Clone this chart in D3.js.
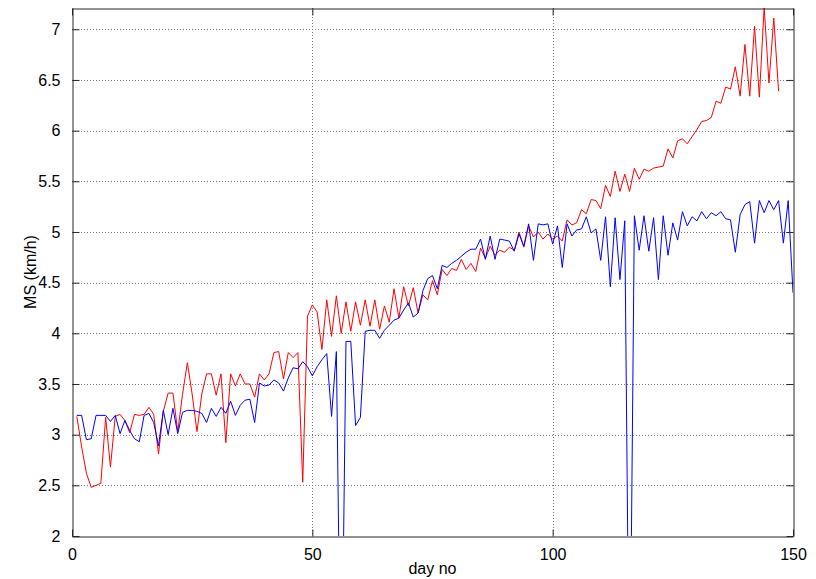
<!DOCTYPE html>
<html>
<head>
<meta charset="utf-8">
<script src="https://cdn.jsdelivr.net/npm/d3@7"></script>
<style>
  html, body { margin: 0; padding: 0; background: #fff; }
  svg { display: block; font-family: Arial, "Liberation Sans", Helvetica, sans-serif; }
</style>
</head>
<body>
<svg id="chart" width="816" height="579"></svg>
<script>
// Day numbers (x axis)
const daysRed = d3.range(1, 148);
const daysBlue = d3.range(1, 151);

// Mean speed per day, red series (days 1..147)
const redValues = [
  3.18, 2.88, 2.62, 2.48, 2.50, 2.52, 3.17, 2.68, 3.18, 3.20,
  3.14, 3.02, 3.20, 3.19, 3.20, 3.27, 3.20, 2.81, 3.23, 3.41,
  3.41, 3.03, 3.40, 3.71, 3.40, 3.03, 3.40, 3.60, 3.60, 3.39,
  3.60, 2.92, 3.60, 3.48, 3.60, 3.50, 3.50, 3.37, 3.60, 3.54,
  3.60, 3.81, 3.82, 3.55, 3.81, 3.76, 3.81, 2.53, 4.17, 4.28,
  4.21, 3.84, 4.33, 3.97, 4.37, 4.00, 4.31, 4.02, 4.31, 4.08,
  4.33, 4.07, 4.33, 4.04, 4.27, 4.11, 4.44, 4.15, 4.46, 4.27,
  4.45, 4.20, 4.38, 4.33, 4.52, 4.38, 4.63, 4.57, 4.64, 4.62,
  4.73, 4.63, 4.69, 4.61, 4.84, 4.74, 4.86, 4.77, 4.82, 4.80,
  4.85, 4.82, 5.00, 4.85, 5.06, 4.95, 5.00, 4.93, 4.98, 4.93,
  4.96, 4.91, 5.12, 5.07, 5.09, 5.22, 5.18, 5.32, 5.31, 5.23,
  5.46, 5.35, 5.60, 5.40, 5.57, 5.40, 5.63, 5.52, 5.62, 5.60,
  5.63, 5.64, 5.65, 5.82, 5.73, 5.90, 5.92, 5.87, 5.94, 6.01,
  6.09, 6.10, 6.13, 6.29, 6.27, 6.43, 6.41, 6.63, 6.34, 6.85,
  6.34, 7.03, 6.33, 7.22, 6.47, 7.11, 6.39
];

// Mean speed per day, blue series (days 1..150)
const blueValues = [
  3.19, 3.19, 2.95, 2.96, 3.19, 3.19, 3.19, 3.13, 3.19, 3.01,
  3.14, 3.04, 2.96, 2.93, 3.19, 3.21, 3.12, 2.89, 3.24, 3.00,
  3.26, 3.01, 3.22, 3.24, 3.24, 3.23, 3.21, 3.12, 3.26, 3.18,
  3.27, 3.21, 3.33, 3.19, 3.29, 3.34, 3.35, 3.12, 3.51, 3.48,
  3.49, 3.54, 3.51, 3.43, 3.56, 3.66, 3.65, 3.72, 3.67, 3.58,
  3.67, 3.74, 3.80, 3.18, 3.82, 0.00, 3.92, 3.92, 3.09, 3.17,
  4.02, 4.03, 4.03, 3.95, 4.03, 4.08, 4.13, 4.15, 4.23, 4.30,
  4.16, 4.20, 4.42, 4.54, 4.57, 4.44, 4.67, 4.65, 4.69, 4.72,
  4.76, 4.80, 4.83, 4.83, 4.93, 4.73, 4.96, 4.73, 4.93, 4.92,
  4.91, 4.81, 4.98, 4.86, 5.08, 4.72, 5.08, 5.07, 5.08, 4.88,
  5.06, 4.65, 5.08, 4.96, 5.02, 5.03, 5.15, 4.99, 5.03, 4.72,
  5.15, 4.46, 5.14, 4.53, 5.11, 0.00, 5.16, 4.82, 5.16, 4.81,
  5.14, 4.53, 5.16, 4.77, 5.09, 4.92, 5.20, 5.06, 5.15, 5.11,
  5.20, 5.13, 5.19, 5.16, 5.20, 5.13, 5.12, 4.80, 5.17, 5.27,
  5.30, 4.89, 5.31, 5.19, 5.31, 5.22, 5.31, 4.89, 5.31, 4.40
];

// Axis ticks
const xTicks = [0, 50, 100, 150];
const yTicks = [2, 2.5, 3, 3.5, 4, 4.5, 5, 5.5, 6, 6.5, 7];
const xLabel = "day no";
const yLabel = "MS (km/h)";

const svg = d3.select("#chart");
const box = { left: 72, right: 793, top: 8, bottom: 536 };

const x = d3.scaleLinear().domain([0, 150]).range([box.left, box.right]);
const y = d3.scaleLinear().domain([2, 7.21]).range([box.bottom, box.top]);

// Clip region for the plotted lines
svg.append("defs").append("clipPath").attr("id", "plotClip")
  .append("rect")
  .attr("x", box.left).attr("y", box.top)
  .attr("width", box.right - box.left).attr("height", box.bottom - box.top);

// Dotted grid
const grid = svg.append("g").attr("class", "grid");
grid.selectAll("line.gx").data(xTicks.filter(t => t > 0 && t < 150)).join("line")
  .attr("x1", d => Math.round(x(d)) + 0.5).attr("x2", d => Math.round(x(d)) + 0.5)
  .attr("y1", box.top).attr("y2", box.bottom)
  .attr("stroke", "#7a7a7a").attr("stroke-width", 1).attr("stroke-dasharray", "1,2");
grid.selectAll("line.gy").data(yTicks.filter(t => t > 2)).join("line")
  .attr("x1", box.left).attr("x2", box.right)
  .attr("y1", d => Math.round(y(d)) + 0.5).attr("y2", d => Math.round(y(d)) + 0.5)
  .attr("stroke", "#7a7a7a").attr("stroke-width", 1).attr("stroke-dasharray", "1,2");

// Series lines
const line = d3.line().x(d => x(d[0])).y(d => y(d[1]));
const plot = svg.append("g").attr("clip-path", "url(#plotClip)");
plot.append("path")
  .datum(daysRed.map((d, i) => [d, redValues[i]]))
  .attr("d", line).attr("fill", "none").attr("stroke", "#ff0000").attr("stroke-width", 1);
plot.append("path")
  .datum(daysBlue.map((d, i) => [d, blueValues[i]]))
  .attr("d", line).attr("fill", "none").attr("stroke", "#0000ff").attr("stroke-width", 1);

// Axes with inward ticks on all four sides
const tickLen = 7;
const axisColor = "#262626";
const bottomAxis = d3.axisBottom(x).tickValues(xTicks).tickSizeInner(-tickLen).tickSizeOuter(0)
  .tickPadding(tickLen + 5).tickFormat(d3.format("d"));
const leftAxis = d3.axisLeft(y).tickValues(yTicks).tickSizeInner(-tickLen).tickSizeOuter(0)
  .tickPadding(tickLen + 5).tickFormat(d => String(d));
const topAxis = d3.axisTop(x).tickValues(xTicks).tickSizeInner(-tickLen).tickSizeOuter(0).tickFormat("");
const rightAxis = d3.axisRight(y).tickValues(yTicks).tickSizeInner(-tickLen).tickSizeOuter(0).tickFormat("");

function styleAxis(g) {
  g.selectAll("path.domain").attr("stroke", axisColor);
  g.selectAll(".tick line").attr("stroke", axisColor);
  g.selectAll(".tick text").attr("fill", "#000").style("font-size", "16px");
}

svg.append("g").attr("transform", `translate(0,${box.bottom + 0.5})`).call(bottomAxis).call(styleAxis);
svg.append("g").attr("transform", `translate(${box.left + 0.5},0)`).call(leftAxis).call(styleAxis);
svg.append("g").attr("transform", `translate(0,${box.top + 0.5})`).call(topAxis).call(styleAxis);
svg.append("g").attr("transform", `translate(${box.right + 0.5},0)`).call(rightAxis).call(styleAxis);

svg.selectAll(".tick text").attr("font-family", null);
svg.selectAll("g[font-family]").attr("font-family", null).attr("font-size", null);

// Axis titles
svg.append("text")
  .attr("x", (box.left + box.right) / 2).attr("y", 574)
  .attr("text-anchor", "middle").style("font-size", "16px").attr("fill", "#000")
  .text(xLabel);
svg.append("text")
  .attr("transform", `translate(36,${(box.top + box.bottom) / 2}) rotate(-90)`)
  .attr("text-anchor", "middle").style("font-size", "16px").attr("fill", "#000")
  .text(yLabel);
</script>
</body>
</html>
